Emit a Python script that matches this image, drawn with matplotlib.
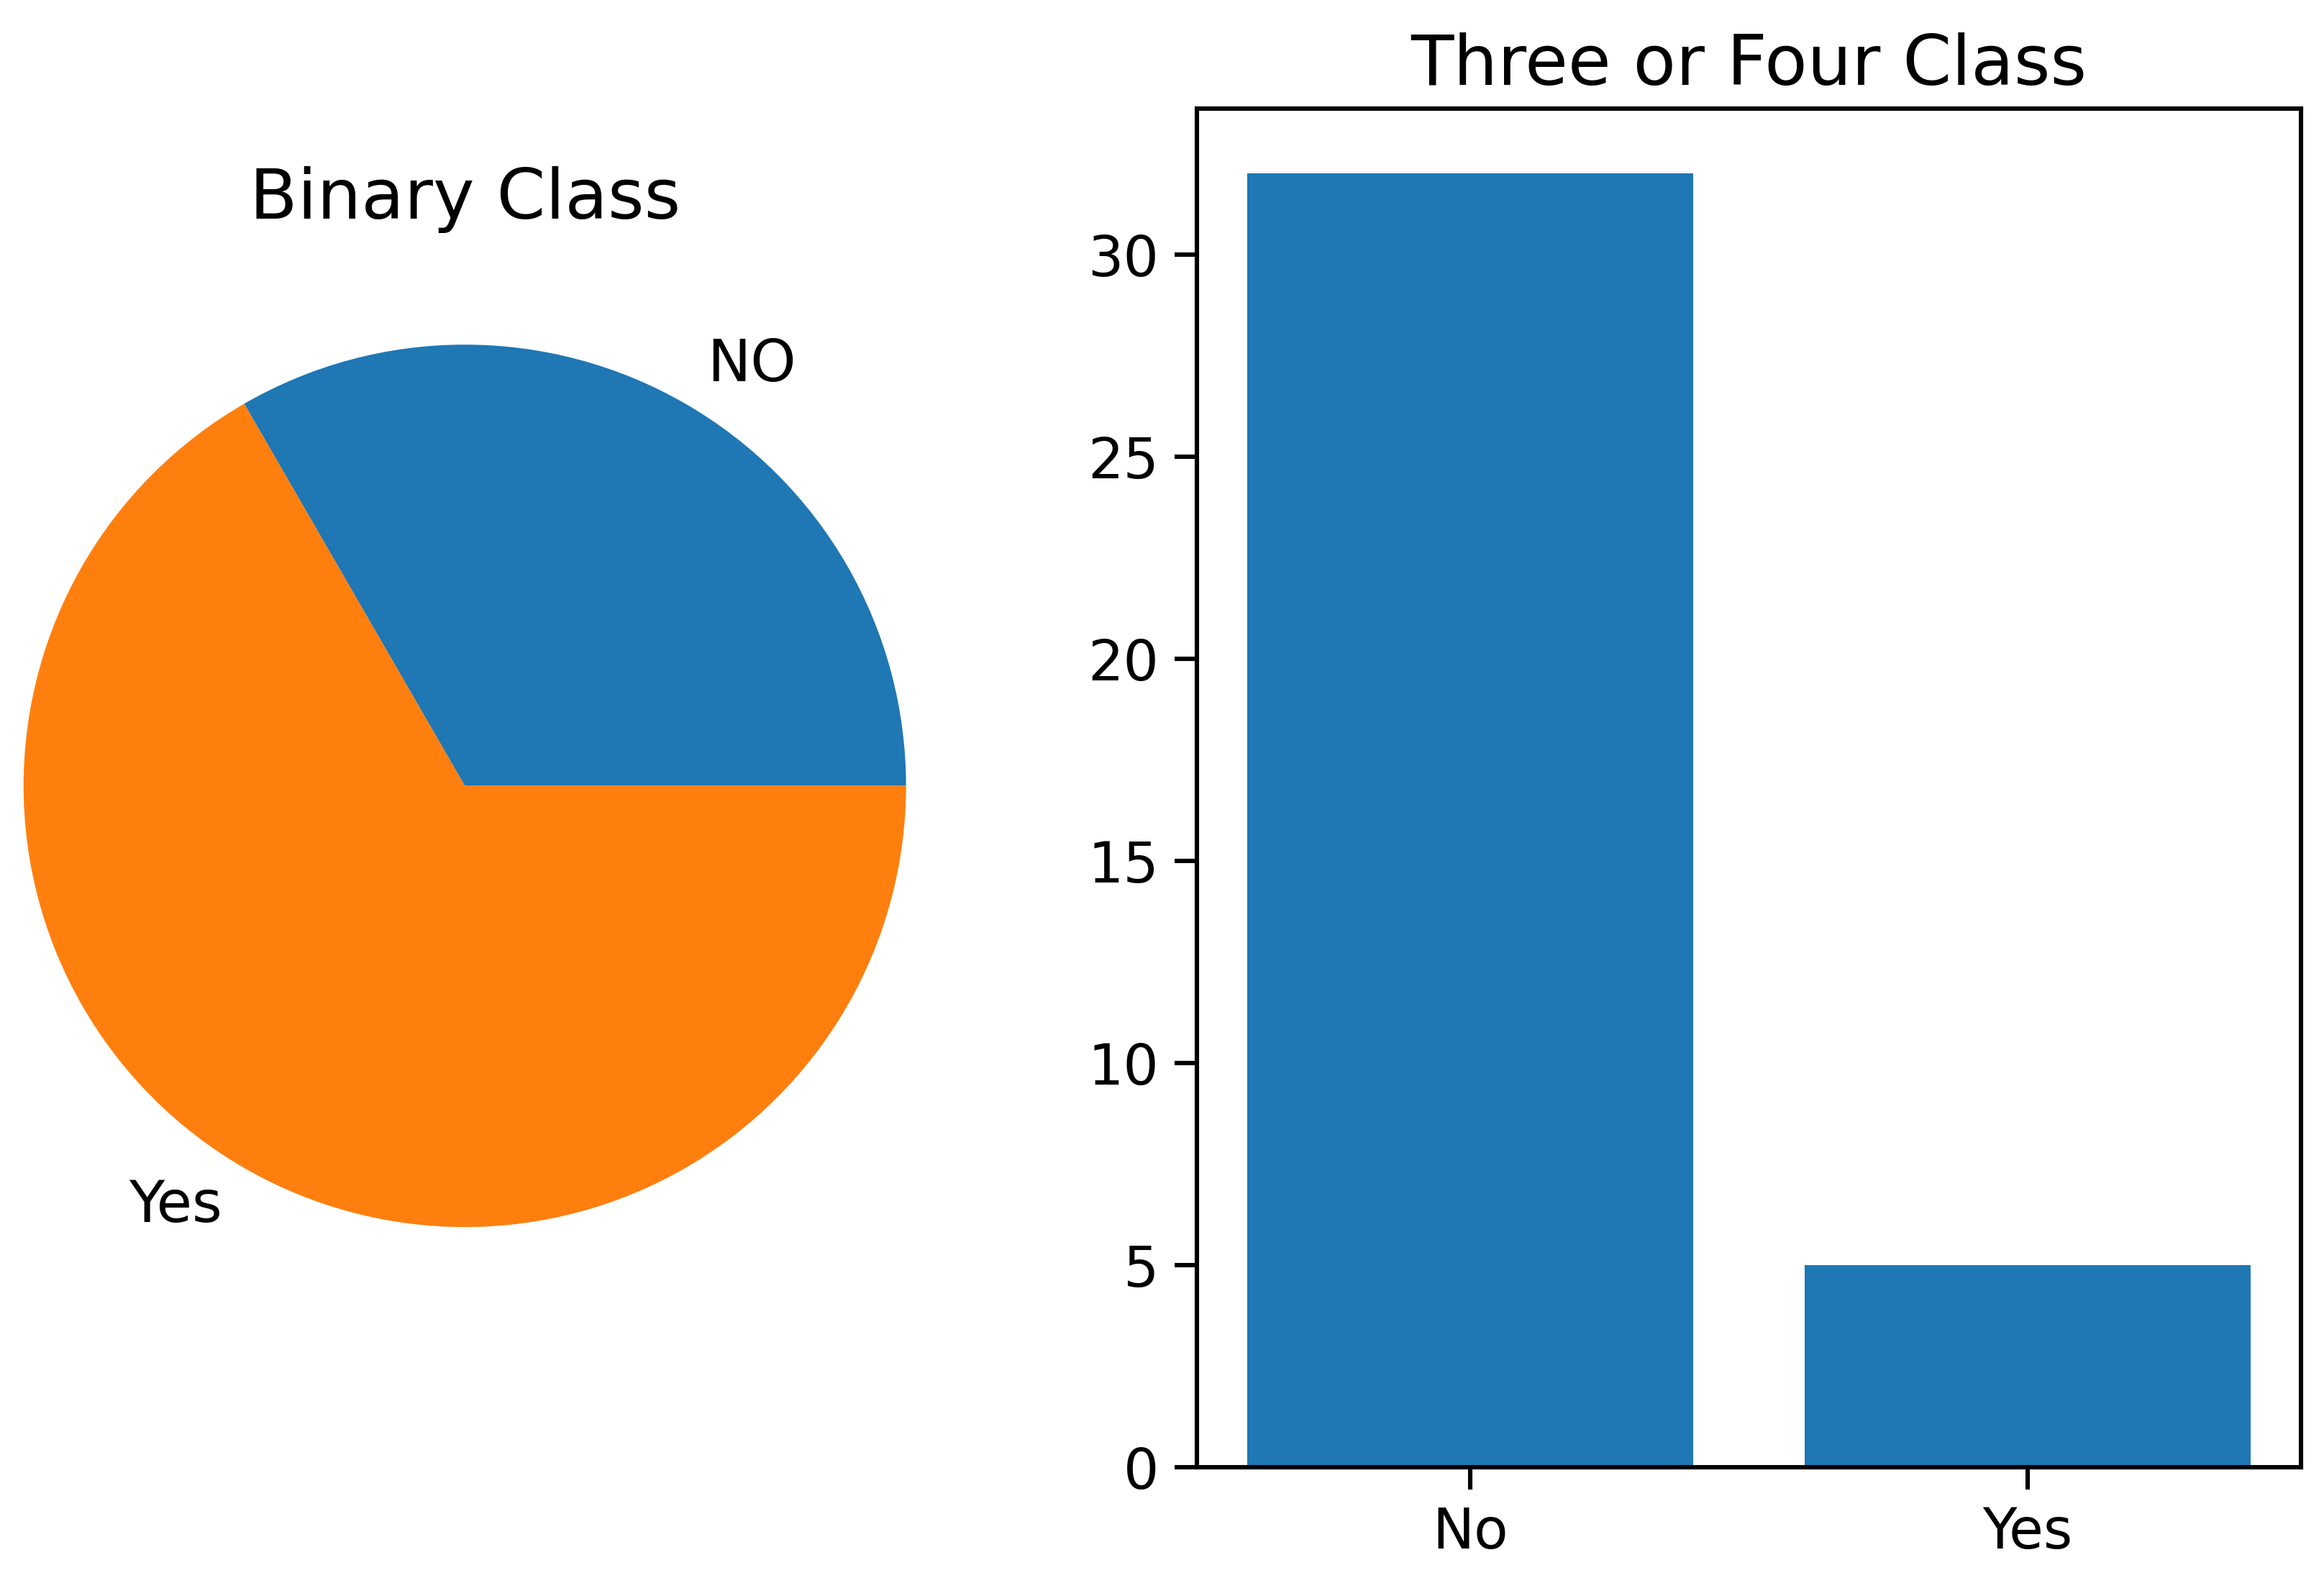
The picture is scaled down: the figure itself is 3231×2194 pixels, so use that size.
import matplotlib
matplotlib.use("Agg")
import matplotlib.pyplot as plt

pie_labels = ["NO", "Yes"]
pie_values = [12, 24]

bar_labels = ["No", "Yes"]
bar_values = [32, 5]

plt.rcParams["font.size"] = 28
plt.rcParams["axes.linewidth"] = 2.2

fig = plt.figure(figsize=(16.155, 10.97), dpi=200)

ax1 = fig.add_axes([-0.0375, 0.1525, 0.475, 0.699])
ax1.pie(pie_values, labels=pie_labels, textprops={"fontsize": 29})
ax1.set_title("Binary Class", fontsize=35, pad=8)

ax2 = fig.add_axes([0.515, 0.070, 0.475, 0.861])
ax2.bar(bar_labels, bar_values)
ax2.set_title("Three or Four Class", fontsize=35, pad=12)
ax2.tick_params(labelsize=28, length=11, width=2.2, pad=8)

fig.savefig("out.png", dpi=200)
